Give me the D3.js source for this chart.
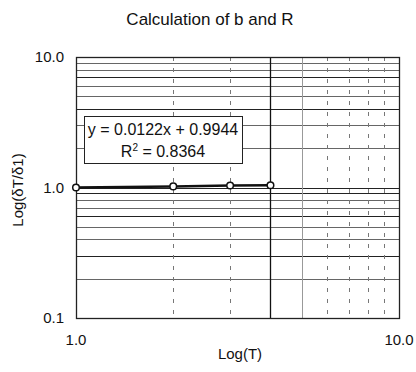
<!DOCTYPE html>
<html>
<head>
<meta charset="utf-8">
<script src="https://cdn.jsdelivr.net/npm/d3@7"></script>
<style>
  body { margin: 0; background: #fff; }
  text { font-family: "Liberation Sans", Arial, sans-serif; fill: #111; }
</style>
</head>
<body>
<svg id="chart" width="416" height="372"></svg>
<script>
// data
const tValues = [1, 2, 3, 4];
const ratioValues = [1.0, 1.02, 1.035, 1.04];
const xTickLabels = ["1.0", "10.0"];
const yTickLabels = ["0.1", "1.0", "10.0"];
const fitLines = ["y = 0.0122x + 0.9944", "R2 = 0.8364"];

const svg = d3.select("#chart");
const margin = {left: 76, right: 17, top: 57, bottom: 54};
const width = 416 - margin.left - margin.right;
const height = 372 - margin.top - margin.bottom;

const x = d3.scaleLog().domain([1, 10]).range([margin.left, margin.left + width]);
const y = d3.scaleLog().domain([0.1, 10]).range([margin.top + height, margin.top]);

// title
svg.append("text")
  .attr("x", 210).attr("y", 25)
  .attr("text-anchor", "middle")
  .style("font-size", "17px")
  .text("Calculation of b and R");

// horizontal minor gridlines
let yMinor = [];
for (let d = 0.1; d < 10; d *= 10) {
  for (let k = 2; k <= 9; k++) yMinor.push(+(d * k).toFixed(2));
}
yMinor.push(1);
svg.append("g").selectAll("line")
  .data(yMinor)
  .join("line")
  .attr("x1", margin.left).attr("x2", margin.left + width)
  .attr("y1", d => Math.round(y(d)) + 0.5).attr("y2", d => Math.round(y(d)) + 0.5)
  .attr("stroke", (d, i) => i % 3 == 1 ? "#222" : "#666")
  .attr("stroke-width", 1);

// vertical gridlines
const xGrid = [2, 3, 4, 5, 6, 7, 8, 9];
svg.append("g").selectAll("line")
  .data(xGrid)
  .join("line")
  .attr("x1", d => Math.round(x(d)) + 0.5).attr("x2", d => Math.round(x(d)) + 0.5)
  .attr("y1", margin.top).attr("y2", margin.top + height)
  .attr("stroke", d => d == 4 ? "#111" : (d == 5 ? "#999" : "#777"))
  .attr("stroke-width", d => d == 4 ? 1.3 : 1)
  .attr("stroke-dasharray", d => (d == 4 || d == 5) ? null : "4,7");

// plot frame
svg.append("rect")
  .attr("x", margin.left + 0.5).attr("y", margin.top + 0.5)
  .attr("width", width).attr("height", height)
  .attr("fill", "none").attr("stroke", "#222").attr("stroke-width", 1.3);

// y tick labels
svg.append("g").selectAll("text")
  .data([0.1, 1, 10])
  .join("text")
  .attr("x", margin.left - 12)
  .attr("y", d => y(d) + 5)
  .attr("text-anchor", "end")
  .style("font-size", "15px")
  .text((d, i) => yTickLabels[i]);

// x tick labels
svg.append("g").selectAll("text")
  .data([1, 10])
  .join("text")
  .attr("x", d => x(d))
  .attr("y", margin.top + height + 27)
  .attr("text-anchor", "middle")
  .style("font-size", "15px")
  .text((d, i) => xTickLabels[i]);

// axis titles
svg.append("text")
  .attr("x", 240).attr("y", 359)
  .attr("text-anchor", "middle")
  .style("font-size", "15px")
  .text("Log(T)");

svg.append("text")
  .attr("transform", "translate(23,190) rotate(-90)")
  .attr("text-anchor", "middle")
  .style("font-size", "15px")
  .text("Log(δT/δ1)");

// data line
const pts = tValues.map((t, i) => [t, ratioValues[i]]);
svg.append("path")
  .datum(pts)
  .attr("d", d3.line().x(d => x(d[0])).y(d => y(d[1])))
  .attr("fill", "none")
  .attr("stroke", "#111")
  .attr("stroke-width", 2.5);

svg.append("g").selectAll("circle")
  .data(pts)
  .join("circle")
  .attr("cx", d => x(d[0])).attr("cy", d => y(d[1]))
  .attr("r", 3.3)
  .attr("fill", "#fff").attr("stroke", "#111").attr("stroke-width", 1.5);

// regression label box
const box = svg.append("g");
box.append("rect")
  .attr("x", 84.5).attr("y", 116.5)
  .attr("width", 158).attr("height", 47)
  .attr("fill", "#fff").attr("stroke", "#222");
box.append("text")
  .attr("x", 163).attr("y", 135)
  .attr("text-anchor", "middle")
  .style("font-size", "16px")
  .text(fitLines[0]);
const r2 = box.append("text")
  .attr("x", 163).attr("y", 157)
  .attr("text-anchor", "middle")
  .style("font-size", "16px");
r2.append("tspan").text("R");
r2.append("tspan").attr("dy", -6).style("font-size", "10px").text("2");
r2.append("tspan").attr("dy", 6).text(" = 0.8364");
</script>
</body>
</html>
